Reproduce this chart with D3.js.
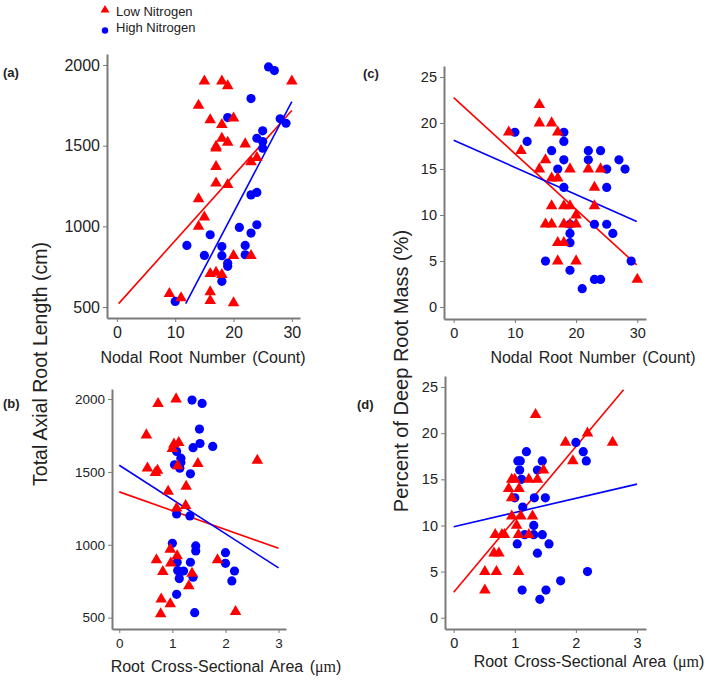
<!DOCTYPE html>
<html>
<head>
<meta charset="utf-8">
<script src="https://cdn.jsdelivr.net/npm/d3@7"></script>
<style>
  body { margin: 0; background: #fff; }
  text { font-family: "Liberation Sans", Arial, sans-serif; }
</style>
</head>
<body>
<div id="viz"></div>
<script>
/*** data ***/
const seriesNames = ["Low Nitrogen", "High Nitrogen"];

const lengthTicks = [500, 1000, 1500, 2000];
const pctTicks = [0, 5, 10, 15, 20, 25];
const countTicks = [0, 10, 20, 30];
const areaTicks = [0, 1, 2, 3];

// (a) nodal root number vs total axial root length
const aLow = [[15,1900],[18,1900],[19,1870],[30,1900],[14,1750],[16,1660],[20,1670],[18,1630],
  [18,1545],[19,1520],[17,1495],[17,1485],[22,1510],[17,1370],[23,1400],[24,1425],[17,1268],[19,1258],
  [14,1170],[15,1057],[14,1000],[20,818],[23,818],[16,707],[17,715],[18,700],[9,583],[11,556],
  [16,593],[16,539],[20,525]];
const aHigh = [[26,1988],[27,1965],[23,1792],[19,1674],[28,1666],[29,1639],[25,1592],[24,1546],
  [25,1525],[25,1484],[23,1195],[24,1210],[24,1010],[21,993],[23,958],[16,948],[12,882],[18,875],
  [22,882],[15,820],[18,818],[22,824],[19,772],[19,752],[18,659],[10,535]];

// (c) nodal root number vs percent deep root mass
const cLow = [[14,22],[14,20],[16,20],[17,19],[9,19],[11,17],[15,16],[14,15],[19,15],[22,15],
  [24,15],[16,14],[17,14],[23,13],[16,11],[18,11],[19,11],[23,11],[20,10],[15,9],[16,9],[18,9],
  [19,9],[20,9],[17,7],[18,7],[17,5],[20,5],[30,3]];
const cHigh = [[10,19],[12,18],[18,19],[18,18],[16,17],[22,17],[24,17],[18,16],[22,16],[27,16],
  [17,15],[25,15],[28,15],[18,13],[25,13],[23,9],[25,9],[19,9],[19,8],[26,8],[19,7],[15,5],[29,5],
  [19,4],[21,2],[23,3],[24,3]];

// (b) root cross-sectional area vs total axial root length
const bLow = [[1.07,2000],[0.73,1968],[0.51,1753],[0.53,1526],[0.68,1495],[0.72,1510],[1.03,1690],
  [1.12,1700],[1.0,1660],[1.1,1542],[1.48,1556],[2.6,1579],[1.26,1400],[0.92,1366],[1.08,1251],
  [1.25,1269],[0.96,969],[1.09,923],[0.70,896],[1.85,896],[0.97,873],[0.82,816],[1.37,804],
  [1.31,717],[0.79,626],[0.96,594],[0.78,525],[2.19,541]];
const bHigh = [[1.37,1993],[1.56,1970],[1.51,1794],[1.52,1695],[1.39,1666],[1.76,1675],[1.08,1640],
  [1.16,1594],[1.16,1565],[1.04,1549],[1.14,1526],[1.34,1487],[1.08,1212],[1.33,1198],[1.0,1010],
  [1.44,992],[1.44,958],[2.0,946],[2.0,873],[1.09,880],[1.34,880],[1.10,823],[1.21,820],[2.17,820],
  [1.13,768],[1.39,777],[2.12,752],[1.08,660],[1.42,534]];

// (d) root cross-sectional area vs percent deep root mass
const dLow = [[1.34,22],[2.6,19],[1.83,19],[2.19,20],[1.95,17],[1.47,16],[0.95,15],[1.0,15],
  [1.23,15],[1.37,15],[0.90,14],[1.07,14],[0.95,13],[0.95,11],[1.1,11],[1.29,11],[1.03,10],
  [0.68,9],[0.79,9],[0.83,9],[1.06,9],[1.23,9],[0.66,7],[0.74,7],[0.51,5],[0.70,5],[1.06,5],[0.51,3]];
const dHigh = [[2.0,19],[2.12,18],[1.19,18],[2.17,17],[1.45,17],[1.05,17],[1.09,17],[1.08,16],
  [1.37,16],[1.11,15],[1.0,13],[1.32,13],[1.5,13],[1.13,12],[1.31,10],[1.31,9],[1.45,9],[1.16,9],
  [1.04,8],[1.56,8],[1.37,7],[1.75,4],[2.19,5],[1.12,3],[1.51,3],[1.41,2]];

// fitted lines: [x start, x end, intercept, slope]
const aLowFit = [0.3, 30, 509, 40.3];
const aHighFit = [11.8, 30, -291, 68.8];
const cLowFit = [0, 29.9, 22.76, -0.608];
const cHighFit = [0, 29.9, 18.14, -0.296];
const bLowFit = [0, 3, 1363, -129];
const bHighFit = [0, 3, 1546, -235];
const dLowFit = [0, 2.78, 2.77, 7.89];
const dHighFit = [0, 3, 9.87, 1.537];

/*** layout ***/
const width = 709, height = 680;
const red = "#ff0000", blue = "#0000ff", axisCol = "#7a7a7a", textCol = "#222";

const svg = d3.select("#viz").append("svg")
  .attr("width", width)
  .attr("height", height);

const panels = [
  { tag: "(a)", low: aLow, high: aHigh, lowFit: aLowFit, highFit: aHighFit,
    xd: [-1.7, 31.4], yd: [432, 2068], xr: [107, 300], yr: [318, 54],
    xt: countTicks, yt: lengthTicks, fs: 16, tagPos: [3, 77] },
  { tag: "(c)", low: cLow, high: cHigh, lowFit: cLowFit, highFit: cHighFit,
    xd: [-1.58, 31.42], yd: [-1.3, 26.2], xr: [444, 646], yr: [319, 66],
    xt: countTicks, yt: pctTicks, fs: 14.5, tagPos: [363, 78] },
  { tag: "(b)", low: bLow, high: bHigh, lowFit: bLowFit, highFit: bHighFit,
    xd: [-0.137, 3.14], yd: [422, 2069], xr: [112, 286], yr: [629, 389],
    xt: areaTicks, yt: lengthTicks, fs: 13.5, tagPos: [3, 408] },
  { tag: "(d)", low: dLow, high: dHigh, lowFit: dLowFit, highFit: dHighFit,
    xd: [-0.142, 3.147], yd: [-1.22, 26.2], xr: [445, 646], yr: [629, 376],
    xt: areaTicks, yt: pctTicks, fs: 14.5, tagPos: [357, 409] }
];

const tri = d3.symbol().type(d3.symbolTriangle).size(58);
const fmt = d3.format("d");

panels.forEach(p => {
  const x = d3.scaleLinear().domain(p.xd).range(p.xr);
  const y = d3.scaleLinear().domain(p.yd).range(p.yr);
  const g = svg.append("g");

  // axes
  const xAxis = g.append("g")
    .attr("transform", `translate(0,${p.yr[0]})`)
    .call(d3.axisBottom(x).tickValues(p.xt).tickFormat(fmt).tickSize(4).tickPadding(5).tickSizeOuter(0));
  const yAxis = g.append("g")
    .attr("transform", `translate(${p.xr[0]},0)`)
    .call(d3.axisLeft(y).tickValues(p.yt).tickFormat(fmt).tickSize(4).tickPadding(3).tickSizeOuter(0));
  [xAxis, yAxis].forEach(ax => {
    ax.select(".domain").attr("stroke", axisCol).attr("stroke-width", 2);
    ax.selectAll(".tick line").attr("stroke", axisCol).attr("stroke-width", 1);
    ax.selectAll(".tick text")
      .attr("fill", textCol)
      .style("font-size", p.fs + "px")
      .style("font-family", '"Liberation Sans", Arial, sans-serif');
  });

  // fitted lines
  [[p.lowFit, red], [p.highFit, blue]].forEach(([f, col]) => {
    g.append("line")
      .attr("x1", x(f[0])).attr("y1", y(f[2] + f[3] * f[0]))
      .attr("x2", x(f[1])).attr("y2", y(f[2] + f[3] * f[1]))
      .attr("stroke", col)
      .attr("stroke-width", 1.6);
  });

  // points
  g.append("g").selectAll("circle")
    .data(p.high)
    .join("circle")
    .attr("cx", d => x(d[0]))
    .attr("cy", d => y(d[1]))
    .attr("r", 4.6)
    .attr("fill", blue);

  g.append("g").selectAll("path")
    .data(p.low)
    .join("path")
    .attr("d", tri)
    .attr("transform", d => `translate(${x(d[0])},${y(d[1])})`)
    .attr("fill", red);

  svg.append("text")
    .attr("x", p.tagPos[0])
    .attr("y", p.tagPos[1])
    .attr("font-weight", "bold")
    .attr("font-size", 13)
    .attr("fill", textCol)
    .text(p.tag);
});

/*** axis titles ***/
svg.append("text")
  .attr("transform", "translate(47,364) rotate(-90)")
  .attr("text-anchor", "middle")
  .attr("font-size", 19.5)
  .attr("fill", textCol)
  .text("Total Axial Root Length (cm)");

svg.append("text")
  .attr("transform", "translate(408,371) rotate(-90)")
  .attr("text-anchor", "middle")
  .attr("font-size", 20)
  .attr("fill", textCol)
  .text("Percent of Deep Root Mass (%)");

// [label, unit, centre x, baseline y]
const xTitles = [
  ["Nodal Root Number (Count)", "", 203, 363],
  ["Nodal Root Number (Count)", "", 593, 363],
  ["Root Cross-Sectional Area (", "μm", 226, 672],
  ["Root Cross-Sectional Area (", "μm", 589, 667]
];
const xt = svg.selectAll(".xtitle")
  .data(xTitles)
  .join("text")
  .attr("class", "xtitle")
  .attr("x", d => d[2])
  .attr("y", d => d[3])
  .attr("text-anchor", "middle")
  .attr("font-size", 16)
  .attr("fill", textCol)
  .attr("word-spacing", 2);
xt.append("tspan").text(d => d[0]);
xt.filter(d => d[1]).append("tspan")
  .style("font-family", '"Liberation Serif", "Times New Roman", serif')
  .text(d => d[1]);
xt.filter(d => d[1]).append("tspan").text(")");

/*** legend ***/
const legend = svg.append("g");
legend.append("path")
  .attr("d", d3.symbol().type(d3.symbolTriangle).size(34))
  .attr("transform", "translate(105,10)")
  .attr("fill", red);
legend.append("circle")
  .attr("cx", 105).attr("cy", 30.5).attr("r", 3.2)
  .attr("fill", blue);
legend.selectAll(".leg")
  .data(seriesNames)
  .join("text")
  .attr("class", "leg")
  .attr("x", 116)
  .attr("y", (d, i) => 16 + i * 16)
  .attr("font-size", 13)
  .attr("fill", textCol)
  .text(d => d);
</script>
</body>
</html>
